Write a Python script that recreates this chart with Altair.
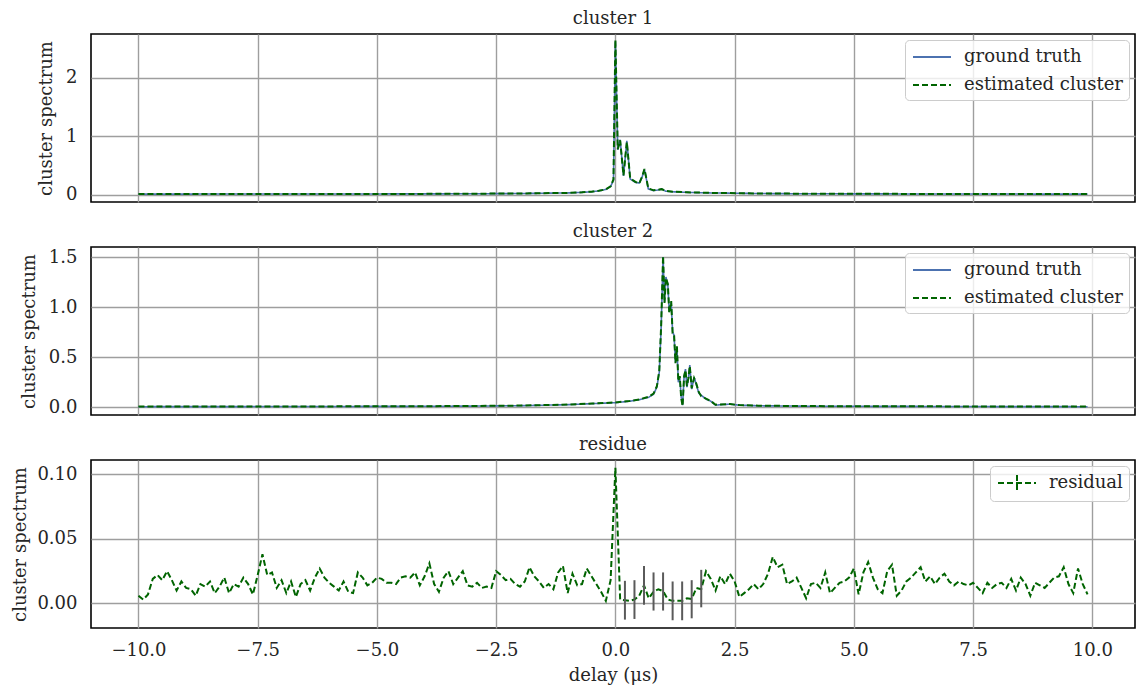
import altair as alt
import pandas as pd

FONT = "DejaVu Serif"
TXT = "#262626"
BLUE = "#4c72b0"
GREEN = "#006400"
ERRCOL = "#5a5a5a"
FS = 18

x_ticks = [-10.0, -7.5, -5.0, -2.5, 0.0, 2.5, 5.0, 7.5, 10.0]
x_domain = [-10.995, 10.895]

# ---- cluster 1 ----
c1_x = [-10.0, -8.0, -6.0, -4.0, -3.0, -2.0, -1.5, -1.0, -0.7, -0.5, -0.35, -0.2, -0.1, -0.04,
        0.0, 0.05, 0.1, 0.17, 0.24, 0.31, 0.42, 0.5, 0.56, 0.61, 0.69, 0.8, 0.9, 0.97, 1.05,
        1.2, 1.5, 2.0, 3.0, 4.0, 6.0, 8.0, 9.9]
c1_truth = [0.010, 0.011, 0.012, 0.014, 0.016, 0.020, 0.025, 0.030, 0.040, 0.050, 0.065, 0.090,
            0.140, 0.250, 2.620, 0.770, 0.940, 0.320, 0.920, 0.270, 0.210, 0.200, 0.300, 0.430,
            0.100, 0.070, 0.080, 0.100, 0.060, 0.050, 0.040, 0.030, 0.020, 0.016, 0.013, 0.011, 0.010]
c1_est = [0.011, 0.011, 0.013, 0.014, 0.017, 0.021, 0.026, 0.031, 0.041, 0.052, 0.066, 0.092,
          0.145, 0.260, 2.650, 0.780, 0.930, 0.330, 0.900, 0.280, 0.220, 0.190, 0.310, 0.440,
          0.110, 0.075, 0.085, 0.095, 0.065, 0.052, 0.041, 0.031, 0.021, 0.017, 0.014, 0.012, 0.011]

# ---- cluster 2 ----
c2_x = [-10.0, -8.0, -6.0, -4.0, -3.0, -2.0, -1.5, -1.0, -0.5, 0.0, 0.3, 0.5, 0.7, 0.8, 0.87,
        0.92, 0.96, 1.0, 1.03, 1.06, 1.1, 1.13, 1.17, 1.2, 1.23, 1.26, 1.29, 1.32, 1.35, 1.38,
        1.41, 1.44, 1.47, 1.5, 1.53, 1.56, 1.6, 1.65, 1.7, 1.75, 1.8, 1.9, 2.0, 2.1, 2.2, 2.4,
        2.6, 3.0, 4.0, 6.0, 8.0, 9.9]
c2_truth = [0.005, 0.006, 0.007, 0.009, 0.011, 0.015, 0.020, 0.025, 0.035, 0.045, 0.060, 0.075,
            0.100, 0.130, 0.200, 0.350, 0.800, 1.500, 1.050, 1.300, 1.220, 0.950, 1.050, 0.750,
            0.720, 0.450, 0.600, 0.250, 0.300, 0.100, 0.020, 0.300, 0.380, 0.200, 0.280, 0.420,
            0.180, 0.300, 0.220, 0.140, 0.120, 0.080, 0.060, 0.020, 0.025, 0.030, 0.020, 0.014,
            0.010, 0.008, 0.006, 0.005]
c2_est = [0.006, 0.006, 0.008, 0.010, 0.012, 0.016, 0.021, 0.026, 0.036, 0.047, 0.062, 0.077,
          0.105, 0.135, 0.210, 0.360, 0.820, 1.510, 1.040, 1.290, 1.230, 0.940, 1.060, 0.740,
          0.730, 0.440, 0.610, 0.260, 0.310, 0.090, 0.010, 0.310, 0.370, 0.210, 0.290, 0.410,
          0.190, 0.290, 0.230, 0.150, 0.110, 0.085, 0.062, 0.025, 0.028, 0.031, 0.021, 0.015,
          0.011, 0.009, 0.007, 0.006]

# ---- residue (x = -10.0 ... 9.9, step 0.1) ----
residual = [
    0.006, 0.003, 0.007, 0.019, 0.022, 0.018, 0.025, 0.018, 0.010, 0.017,
    0.012, 0.011, 0.006, 0.015, 0.013, 0.017, 0.008, 0.013, 0.020, 0.008,
    0.015, 0.013, 0.020, 0.015, 0.007, 0.022, 0.038, 0.022, 0.024, 0.012,
    0.018, 0.008, 0.017, 0.005, 0.015, 0.018, 0.010, 0.020, 0.027, 0.020,
    0.016, 0.013, 0.010, 0.017, 0.009, 0.008, 0.024, 0.020, 0.014, 0.016,
    0.020, 0.019, 0.016, 0.016, 0.015, 0.020, 0.021, 0.020, 0.024, 0.014,
    0.021, 0.031, 0.015, 0.009, 0.020, 0.025, 0.015, 0.020, 0.025, 0.014,
    0.013, 0.016, 0.012, 0.013, 0.012, 0.025, 0.022, 0.018, 0.019, 0.015,
    0.013, 0.017, 0.028, 0.021, 0.017, 0.012, 0.015, 0.011, 0.024, 0.029,
    0.008, 0.023, 0.014, 0.015, 0.027, 0.021, 0.015, 0.009, 0.002, 0.018,
    0.105, 0.003, 0.0025, 0.002, 0.003, 0.006, 0.014, 0.004, 0.009, 0.011,
    0.0095, 0.003, 0.002, 0.002, 0.002, 0.004, 0.0035, 0.012, 0.011, 0.025,
    0.019, 0.010, 0.021, 0.015, 0.023, 0.017, 0.005, 0.008, 0.011, 0.015,
    0.011, 0.015, 0.023, 0.036, 0.028, 0.030, 0.015, 0.017, 0.020, 0.012,
    0.004, 0.015, 0.016, 0.012, 0.024, 0.008, 0.012, 0.016, 0.017, 0.020,
    0.027, 0.007, 0.024, 0.032, 0.020, 0.011, 0.008, 0.025, 0.030, 0.006,
    0.010, 0.017, 0.020, 0.024, 0.028, 0.017, 0.021, 0.015, 0.020, 0.023,
    0.017, 0.014, 0.017, 0.015, 0.014, 0.016, 0.012, 0.008, 0.016, 0.012,
    0.015, 0.016, 0.012, 0.019, 0.010, 0.020, 0.015, 0.006, 0.016, 0.014,
    0.012, 0.016, 0.020, 0.021, 0.028, 0.015, 0.008, 0.027, 0.015, 0.007,
]
res_x = [round(-10.0 + 0.1 * i, 1) for i in range(len(residual))]

err_x = [0.2, 0.4, 0.6, 0.8, 1.0, 1.2, 1.4, 1.6, 1.8]
err_lo = [-0.0125, -0.012, -0.001, -0.0055, -0.0055, -0.013, -0.013, -0.0115, -0.003]
err_hi = [0.0175, 0.018, 0.029, 0.024, 0.024, 0.017, 0.017, 0.018, 0.026]

PANEL_W = 1044
PANEL_H = 168

SYM_LINE = "M-0.9,0H2.9"
SYM_ERR = "M-0.9,0H2.9M1,-0.8V0.8"


def make_panel(title, series, ydom, yticks, yfmt, symbol, bottom, ytitle_pad, extra=None):
    names = [s[0] for s in series]
    colors = [s[3] for s in series]
    dashes = [s[4] for s in series]
    legend = alt.Legend(title=None, orient="top-right", offset=6, symbolType=symbol)
    cscale = alt.Scale(domain=names, range=colors)
    dscale = alt.Scale(domain=names, range=dashes)
    yscale = alt.Scale(domain=ydom, nice=False, zero=False)
    xscale = alt.Scale(domain=x_domain, nice=False, zero=False)
    if bottom:
        xaxis = alt.Axis(values=x_ticks, format=".1f", grid=True, ticks=False, domain=False,
                         labelPadding=13, titlePadding=7, title="delay (μs)")
    else:
        xaxis = alt.Axis(values=x_ticks, grid=True, ticks=False, domain=False,
                         labels=False, title=None)
    yaxis = alt.Axis(values=yticks, format=yfmt, grid=True, ticks=False, domain=False,
                     labelPadding=14, titlePadding=ytitle_pad, title="cluster spectrum")
    layers = []
    for name, xs, ys, col, dash, w in series:
        df = pd.DataFrame({"x": xs, "y": ys, "series": name})
        layers.append(
            alt.Chart(df).mark_line(strokeWidth=w, clip=True).encode(
                x=alt.X("x:Q", scale=xscale, axis=xaxis),
                y=alt.Y("y:Q", scale=yscale, axis=yaxis),
                color=alt.Color("series:N", scale=cscale, legend=legend),
                strokeDash=alt.StrokeDash("series:N", scale=dscale, legend=legend),
            )
        )
    if extra is not None:
        ex, lo, hi = extra
        edf = pd.DataFrame({"x": ex, "lo": lo, "hi": hi})
        layers.append(
            alt.Chart(edf).mark_rule(color=ERRCOL, strokeWidth=2, clip=True).encode(
                x=alt.X("x:Q", scale=xscale, axis=xaxis),
                y=alt.Y("lo:Q", scale=yscale, axis=yaxis),
                y2="hi:Q",
            )
        )
    return alt.layer(*layers).properties(width=PANEL_W, height=PANEL_H, title=title)


p1 = make_panel(
    "cluster 1",
    [("ground truth", c1_x, c1_truth, BLUE, [1, 0], 1.6),
     ("estimated cluster", c1_x, c1_est, GREEN, [6, 3], 2)],
    [-0.125, 2.75], [0, 1, 2], "d", SYM_LINE, False, 10,
)
p2 = make_panel(
    "cluster 2",
    [("ground truth", c2_x, c2_truth, BLUE, [1, 0], 1.6),
     ("estimated cluster", c2_x, c2_est, GREEN, [6, 3], 2)],
    [-0.078, 1.6], [0.0, 0.5, 1.0, 1.5], ".1f", SYM_LINE, False, 10,
)
p3 = make_panel(
    "residue",
    [("residual", res_x, residual, GREEN, [6, 3], 2)],
    [-0.019, 0.111], [0.0, 0.05, 0.10], ".2f", SYM_ERR, True, 7,
    extra=(err_x, err_lo, err_hi),
)

chart = (
    alt.vconcat(p1, p2, p3, spacing=45, bounds="flush",
                padding={"left": 3, "top": 1, "right": 0, "bottom": 0})
    .resolve_scale(color="independent", strokeDash="independent")
    .configure_view(stroke="#000000", strokeWidth=1.6)
    .configure_axis(labelFont=FONT, titleFont=FONT, labelFontSize=FS, titleFontSize=FS,
                    labelColor=TXT, titleColor=TXT, titleFontWeight="normal",
                    gridColor="#9e9e9e", gridWidth=1.4, gridOpacity=1)
    .configure_title(font=FONT, fontSize=FS, fontWeight="normal", color=TXT, offset=6,
                     anchor="middle")
    .configure_legend(labelFont=FONT, labelFontSize=FS, labelColor=TXT,
                      fillColor="rgba(255,255,255,0.8)", strokeColor="#cccccc",
                      cornerRadius=4, padding=6, rowPadding=8, symbolSize=400,
                      symbolStrokeWidth=2, labelOffset=31, labelLimit=300)
)

chart.save("out.html", embed_options={"renderer": "svg", "actions": False})
